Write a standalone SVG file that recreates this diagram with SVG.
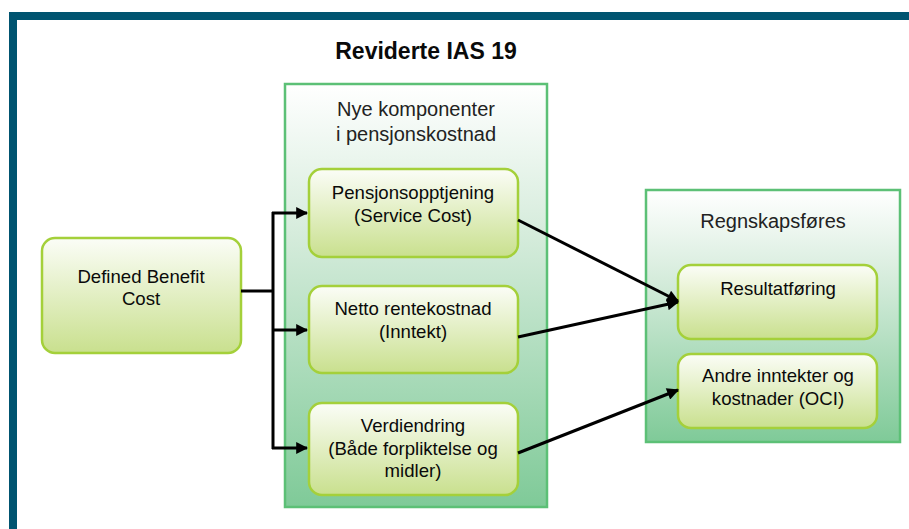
<svg xmlns="http://www.w3.org/2000/svg" width="909" height="529" viewBox="0 0 909 529">
<defs>
<linearGradient id="gCont" x1="0" y1="0" x2="0" y2="1">
<stop offset="0" stop-color="#ffffff"/>
<stop offset="0.35" stop-color="#d6ecdc"/>
<stop offset="1" stop-color="#7fca98"/>
</linearGradient>
<linearGradient id="gNode" x1="0" y1="0" x2="0" y2="1">
<stop offset="0" stop-color="#fbfdf7"/>
<stop offset="1" stop-color="#c9e08e"/>
</linearGradient>
<marker id="arr" viewBox="0 0 10 10" refX="9" refY="5" markerWidth="4.2" markerHeight="4" orient="auto" markerUnits="strokeWidth">
<path d="M0,0 L10,5 L0,10 z" fill="#000"/>
</marker>
<style>
.cont{fill:url(#gCont);stroke:#5cc076;stroke-width:2.5}
.node{fill:url(#gNode);stroke:#a4d03a;stroke-width:2.5}
text{font-family:"Liberation Sans",Arial,sans-serif;fill:#0a0a0a;text-anchor:middle}
.t{font-size:18.6px}
.h{font-size:20px;fill:#222}
.title{font-size:23px;font-weight:bold}
.ln{fill:none;stroke:#000;stroke-width:3}
</style>
</defs>
<rect x="0" y="0" width="909" height="529" fill="#fff"/>
<g id="frame">
<rect x="9" y="12" width="900" height="8" fill="#005470"/>
<rect x="9" y="12" width="8" height="517" fill="#005470"/>
</g>
<text class="title" x="426" y="59">Reviderte IAS 19</text>
<g id="group-nye">
<rect class="cont" x="285" y="84" width="262" height="423"/>
<text class="h" x="416" y="116">Nye komponenter</text>
<text class="h" x="416" y="141">i pensjonskostnad</text>
</g>
<g id="group-regnskap">
<rect class="cont" x="646" y="190" width="254" height="252"/>
<text class="h" x="773" y="228">Regnskapsføres</text>
</g>
<g id="node-dbc">
<rect class="node" x="42" y="238" width="199" height="115" rx="13"/>
<text class="t" x="141" y="283">Defined Benefit</text>
<text class="t" x="141" y="305">Cost</text>
</g>
<g id="node-pensjon">
<rect class="node" x="309" y="169" width="209" height="88" rx="13"/>
<text class="t" x="413" y="199">Pensjonsopptjening</text>
<text class="t" x="413" y="222">(Service Cost)</text>
</g>
<g id="node-netto">
<rect class="node" x="309" y="286" width="209" height="87" rx="13"/>
<text class="t" x="413" y="315">Netto rentekostnad</text>
<text class="t" x="413" y="338">(Inntekt)</text>
</g>
<g id="node-verdi">
<rect class="node" x="309" y="403" width="209" height="92" rx="13"/>
<text class="t" x="413" y="432">Verdiendring</text>
<text class="t" x="413" y="455">(Både forpliktelse og</text>
<text class="t" x="413" y="477">midler)</text>
</g>
<g id="node-resultat">
<rect class="node" x="678" y="265" width="199" height="74" rx="13"/>
<text class="t" x="778" y="295">Resultatføring</text>
</g>
<g id="node-andre">
<rect class="node" x="678" y="354" width="199" height="74" rx="13"/>
<text class="t" x="778" y="382">Andre inntekter og</text>
<text class="t" x="778" y="405">kostnader (OCI)</text>
</g>
<g id="connectors">
<path class="ln" d="M241,291 H273"/>
<path class="ln" d="M273,212 V449"/>
<path class="ln" d="M272,213 H307" marker-end="url(#arr)"/>
<path class="ln" d="M272,330 H307" marker-end="url(#arr)"/>
<path class="ln" d="M272,448 H307" marker-end="url(#arr)"/>
<path class="ln" d="M518,220 L678,301" marker-end="url(#arr)"/>
<path class="ln" d="M518,337 L678,302" marker-end="url(#arr)"/>
<path class="ln" d="M518,453 L678,390" marker-end="url(#arr)"/>
</g>
</svg>
